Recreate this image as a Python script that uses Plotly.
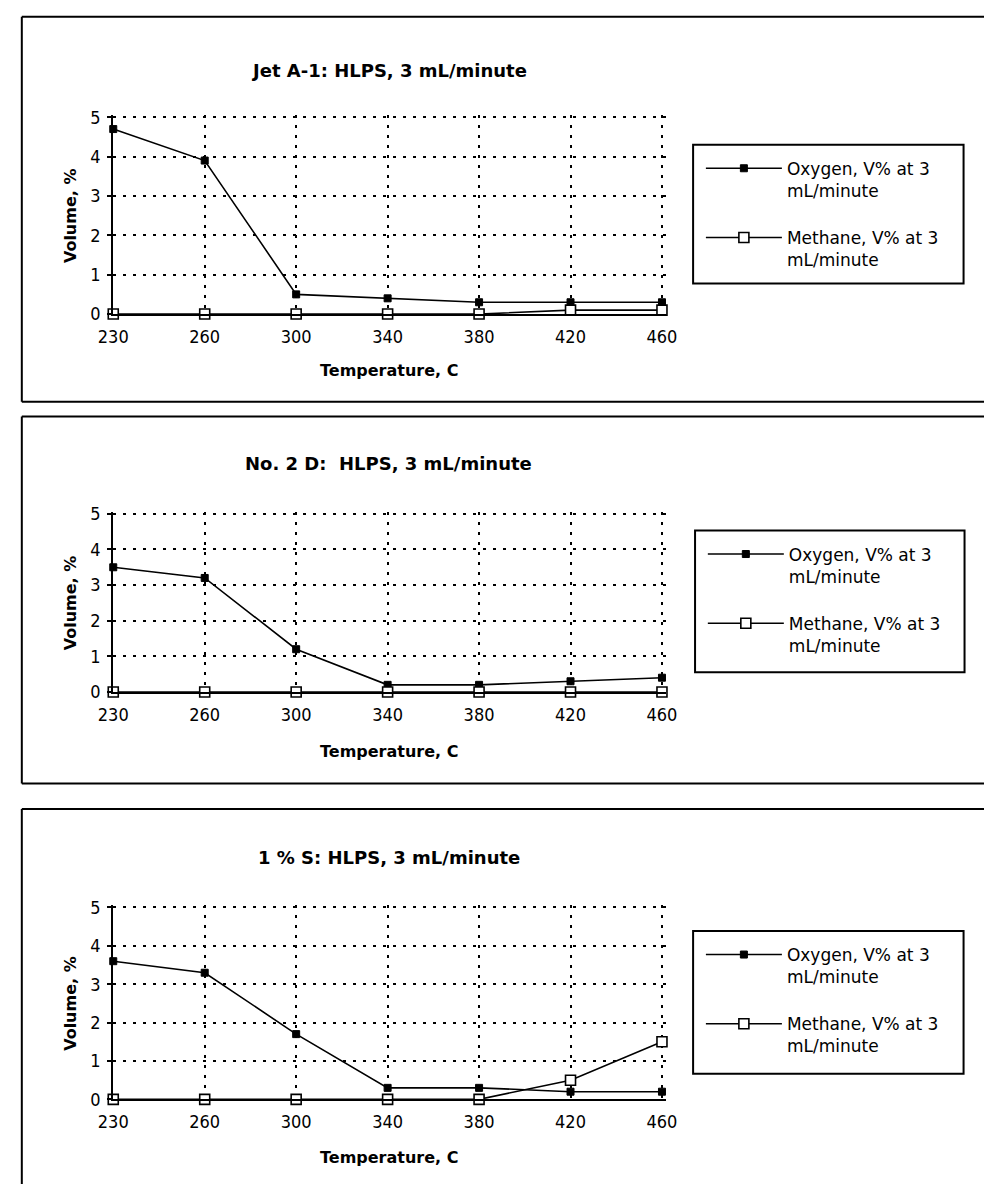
import plotly.graph_objects as go

# ---------------- data ----------------
temperatures = ["230", "260", "300", "340", "380", "420", "460"]

titles = [
    "Jet A-1: HLPS, 3 mL/minute",
    "No. 2 D:  HLPS, 3 mL/minute",
    "1 % S: HLPS, 3 mL/minute",
]

oxygen_jet = [4.7, 3.9, 0.5, 0.4, 0.3, 0.3, 0.3]
methane_jet = [0, 0, 0, 0, 0, 0.1, 0.1]

oxygen_no2d = [3.5, 3.2, 1.2, 0.2, 0.2, 0.3, 0.4]
methane_no2d = [0, 0, 0, 0, 0, 0, 0]

oxygen_1s = [3.6, 3.3, 1.7, 0.3, 0.3, 0.2, 0.2]
methane_1s = [0, 0, 0, 0, 0, 0.5, 1.5]

oxygen_name = "Oxygen, V% at 3<br>mL/minute"
methane_name = "Methane, V% at 3<br>mL/minute"
y_ticks = [0, 1, 2, 3, 4, 5]
x_title = "Temperature, C"
y_title = "Volume, %"

# ---------------- layout (pixels) ----------------
W, H = 996, 1194
FONT = "DejaVu Sans"
TICKFONT = "DejaVu Sans Condensed, DejaVu Sans"
Y_MAX = 5
Y_PAD = 0.06    # tiny headroom so the dotted gridline at 5 is drawn
X_PAD = 0.04    # tiny room so the dotted gridline at the last category is drawn


def fx(px):
    return px / W


def fy(py):
    return 1 - py / H


panels = [
    dict(oxy=oxygen_jet, met=methane_jet, top=110, bot=310, title_y=62, xlab_y=367,
         leg=(697, 138, 975, 279), box=(7, 8, 399)),
    dict(oxy=oxygen_no2d, met=methane_no2d, top=513, bot=694, title_y=462, xlab_y=755,
         leg=(699, 530, 976, 674), box=(7, 414, 787)),
    dict(oxy=oxygen_1s, met=methane_1s, top=913, bot=1108, title_y=862, xlab_y=1167,
         leg=(697, 937, 975, 1082), box=(7, 813, None)),
]

PX_LEFT, PX_RIGHT = 101, 665
ncat = len(temperatures) - 1
px_per_cat = (PX_RIGHT - PX_LEFT) / ncat
PX_RIGHT_DOM = PX_RIGHT + X_PAD * px_per_cat

fig = go.Figure()
annotations = []
shapes = []
layout_extra = {}
edge = dict(color="black", width=2)

for i, p in enumerate(panels):
    n = i + 1
    xa = "x" if n == 1 else f"x{n}"
    ya = "y" if n == 1 else f"y{n}"
    legname = "legend" if n == 1 else f"legend{n}"

    fig.add_trace(go.Scatter(
        x=temperatures, y=p["oxy"], name=oxygen_name, mode="lines+markers",
        xaxis=xa, yaxis=ya, legend=legname, legendgroup=f"o{n}",
        line=dict(color="black", width=1.6),
        marker=dict(symbol="square", size=7, color="black", line=dict(color="black", width=1)),
        cliponaxis=False,
    ))
    fig.add_trace(go.Scatter(
        x=temperatures, y=p["met"], name=methane_name, mode="lines+markers",
        xaxis=xa, yaxis=ya, legend=legname, legendgroup=f"m{n}",
        line=dict(color="black", width=1.6),
        marker=dict(symbol="square", size=10, color="white", line=dict(color="black", width=1.6)),
        cliponaxis=False,
    ))

    px_per_unit = (p["bot"] - p["top"]) / Y_MAX
    top_dom = p["top"] - Y_PAD * px_per_unit

    xkey = "xaxis" if n == 1 else f"xaxis{n}"
    ykey = "yaxis" if n == 1 else f"yaxis{n}"
    layout_extra[xkey] = dict(
        domain=[fx(PX_LEFT), fx(PX_RIGHT_DOM)], anchor=ya, type="category",
        categoryorder="array", categoryarray=temperatures,
        range=[0, ncat + X_PAD],
        showline=True, linecolor="black", linewidth=2,
        showgrid=True, gridcolor="black", gridwidth=1.6, griddash="3px,7px",
        ticks="", ticklabelstandoff=5,
        tickfont=dict(family=TICKFONT, size=18, color="black"),
        zeroline=False, fixedrange=True,
    )
    layout_extra[ykey] = dict(
        domain=[fy(p["bot"]), fy(top_dom)], anchor=xa,
        range=[0, Y_MAX + Y_PAD], tickvals=y_ticks,
        showline=True, linecolor="black", linewidth=2,
        showgrid=True, gridcolor="black", gridwidth=1.6, griddash="3px,7px",
        ticks="outside", ticklen=4, tickwidth=1.5, tickcolor="black", ticklabelstandoff=3,
        tickfont=dict(family=TICKFONT, size=18, color="black"),
        zeroline=False, fixedrange=True,
    )

    lx0, ly0, lx1, ly1 = p["leg"]
    layout_extra[legname] = dict(
        x=fx(lx0 + 8), y=fy(ly0 + 6), xanchor="left", yanchor="top",
        bgcolor="rgba(0,0,0,0)", borderwidth=0,
        font=dict(family=FONT, size=17, color="black"),
        itemwidth=76, valign="top", tracegroupgap=22,
        itemclick=False, itemdoubleclick=False,
    )
    shapes.append(dict(type="rect", xref="paper", yref="paper",
                       x0=fx(lx0), x1=fx(lx1), y0=fy(ly1), y1=fy(ly0),
                       line=dict(color="black", width=2), fillcolor="rgba(0,0,0,0)"))

    bx0, by0, by1 = p["box"]
    shapes.append(dict(type="line", xref="paper", yref="paper",
                       x0=fx(bx0), x1=1, y0=fy(by0), y1=fy(by0), line=edge))
    shapes.append(dict(type="line", xref="paper", yref="paper",
                       x0=fx(bx0), x1=fx(bx0), y0=fy(by0), y1=fy(by1) if by1 else 0, line=edge))
    if by1:
        shapes.append(dict(type="line", xref="paper", yref="paper",
                           x0=fx(bx0), x1=1, y0=fy(by1), y1=fy(by1), line=edge))

    annotations.append(dict(text=f"<b>{titles[i]}</b>", xref="paper", yref="paper",
                            x=fx(384), y=fy(p["title_y"]), xanchor="center", yanchor="middle",
                            showarrow=False, font=dict(family=FONT, size=18, color="black")))
    annotations.append(dict(text=f"<b>{x_title}</b>", xref="paper", yref="paper",
                            x=fx(384), y=fy(p["xlab_y"]), xanchor="center", yanchor="middle",
                            showarrow=False, font=dict(family=FONT, size=16, color="black")))
    annotations.append(dict(text=f"<b>{y_title}</b>", xref="paper", yref="paper",
                            x=fx(57), y=fy((p["top"] + p["bot"]) / 2), xanchor="center",
                            yanchor="middle", textangle=-90,
                            showarrow=False, font=dict(family=FONT, size=16, color="black")))

fig.update_layout(
    width=W, height=H,
    margin=dict(l=0, r=0, t=0, b=0),
    paper_bgcolor="white", plot_bgcolor="white",
    showlegend=True,
    shapes=shapes, annotations=annotations,
    **layout_extra,
)

fig.write_html("out.html", config={"displayModeBar": False})
